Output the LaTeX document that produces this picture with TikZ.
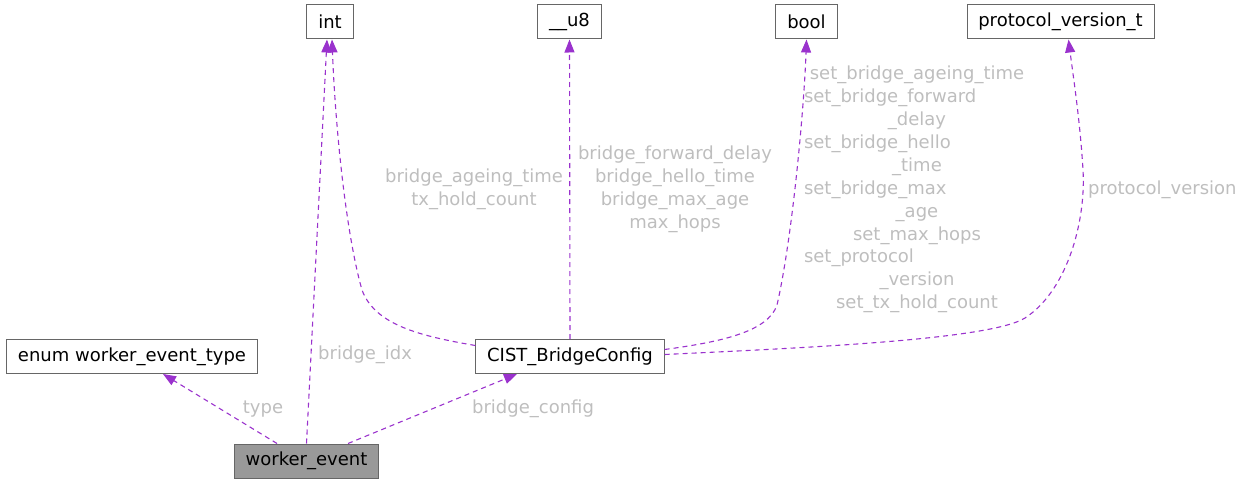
\documentclass[tikz,border=0pt]{standalone}
\usepackage{fontspec}
\setmainfont{DejaVu Sans}
\usetikzlibrary{arrows.meta}
\definecolor{edgepurple}{HTML}{9A32CD}
\definecolor{boxgray}{HTML}{666666}
\definecolor{labelgray}{HTML}{BEBEBE}
\definecolor{fillgray}{HTML}{999999}
\begin{document}
\begin{tikzpicture}[x=1pt,y=-1pt,
  every node/.style={font=\fontsize{18}{22.9}\selectfont},
  box/.style={draw=boxgray, fill=white, line width=1pt, minimum height=34pt, inner xsep=11.3pt, inner ysep=0pt},
  lbl/.style={text=labelgray, inner sep=0pt, align=center},
  conn/.style={draw=edgepurple, line width=1.1pt, dash pattern=on 5pt off 4pt, -{Triangle[length=13pt,width=10pt]}}]
\useasboundingbox (0,0) rectangle (1244,484);
% nodes
\node[box] (int) at (330,22) {int};
\node[box] (u8) at (569.5,22) {\_\_u8};
\node[box] (bool) at (806.5,22) {bool};
\node[box] (proto) at (1060.5,22) {protocol\_version\_t};
\node[box] (enum) at (132,356.5) {enum worker\_event\_type};
\node[box] (cist) at (570,356.5) {CIST\_BridgeConfig};
\node[box, fill=fillgray] (we) at (306.5,461) {worker\_event};
% edges
\draw[conn] ([xshift=-29.5pt]we.north) -- ([xshift=31pt]enum.south);
\draw[conn] ([xshift=41.5pt]we.north) -- ([xshift=-53pt]cist.south);
\draw[conn] (we.north) -- ([xshift=-3pt]int.south);
\draw[conn] ([yshift=11pt]cist.west) .. controls (420,336) and (375,325) .. (362,290)
  .. controls (345,230) and (335,120) .. ([xshift=2pt]int.south);
\draw[conn] (cist.north) -- (u8.south);
\draw[conn] ([yshift=7pt]cist.east) .. controls (720,342) and (768,332) .. (777,305)
  .. controls (792,240) and (804,110) .. (bool.south);
\draw[conn] ([yshift=2pt]cist.east) .. controls (800,348) and (990,340) .. (1025,318)
  .. controls (1068,290) and (1086,220) .. (1083,170)
  .. controls (1080,120) and (1073,75) .. ([xshift=8pt]proto.south);
% labels
\node[lbl] (l1) at (474,189.5) {bridge\_ageing\_time\\tx\_hold\_count};
\node[lbl] (l2) at (675,189.5) {bridge\_forward\_delay\\bridge\_hello\_time\\bridge\_max\_age\\max\_hops};
\node[lbl, text width=226pt] (l3) at (917,189.5) {set\_bridge\_ageing\_time\\
\makebox[226pt][l]{set\_bridge\_forward}\\
\_delay\\
\makebox[226pt][l]{set\_bridge\_hello}\\
\_time\\
\makebox[226pt][l]{set\_bridge\_max}\\
\_age\\
set\_max\_hops\\
\makebox[226pt][l]{set\_protocol}\\
\_version\\
set\_tx\_hold\_count};
\node[lbl, anchor=west] (l4) at (1088,189.5) {protocol\_version};
\node[lbl, anchor=west] (l5) at (318,355) {bridge\_idx};
\node[lbl] (l6) at (263,409) {type};
\node[lbl] (l7) at (533,409) {bridge\_config};
\end{tikzpicture}
\end{document}
